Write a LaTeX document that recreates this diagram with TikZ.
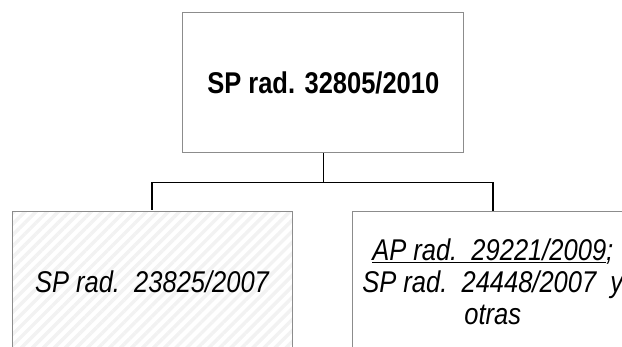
\documentclass[tikz,border=0pt]{standalone}
\usepackage{fontspec}
\setmainfont{Liberation Sans}[FakeStretch=0.85]
\usetikzlibrary{patterns.meta}
\begin{document}
\begin{tikzpicture}[x=1pt,y=-1pt,
  box/.style={draw=black!45,line width=1pt,minimum width=281pt,minimum height=140pt,
    inner sep=0pt,align=center,font=\fontsize{30}{31.7}\selectfont},
  conn/.style={line width=1.6pt,black}]
\useasboundingbox (0,0) rectangle (622,347);
\clip (0,0) rectangle (622,347);
\node[box,font=\fontsize{30}{31.7}\selectfont\bfseries] (top) at (323.3,83) {SP rad. 32805/2010};
\node[box,minimum width=280pt,
  pattern={Lines[angle=45,distance=7.8pt,line width=3.5pt]},pattern color=black!5]
  (left) at (152,281.7) {\itshape SP rad.\ \ 23825/2007};
\node[box] (right) at (492.8,281.7)
  {\itshape \underline{AP rad.\ \ 29221/2009};\\
   \itshape SP rad.\ \ 24448/2007\ \ y\\
   \itshape otras};
\coordinate (j) at (323.3,182.7);
\draw[conn] (top.south) -- (j);
\draw[conn] (left.north) |- (j) -| (right.north);
\end{tikzpicture}
\end{document}
